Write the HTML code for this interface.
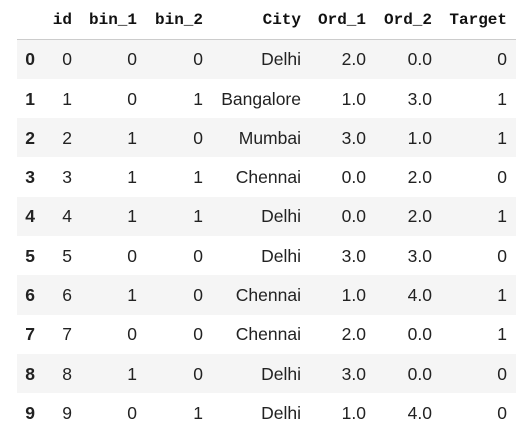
<!DOCTYPE html>
<html><head><meta charset="utf-8"><style>
body{margin:0;width:532px;height:433px;background:#fff;overflow:hidden;position:relative;font-family:"Liberation Sans",sans-serif;}
.c{position:absolute;white-space:nowrap;text-align:right;font-size:17.5px;color:#222;line-height:20px;}
.h{font-family:"Liberation Mono",monospace;font-weight:bold;font-size:16px;color:#111;}
.i{font-weight:bold;}
.band{position:absolute;left:17px;width:499px;height:39.3px;}
</style></head><body>
<div style="position:absolute;left:17px;top:39px;width:499px;height:1px;background:#ccc"></div>
<script>
const headers=["","id","bin_1","bin_2","City","Ord_1","Ord_2","Target"];
const rights=[35,72,137,203,301,366,432,507];
const ids=[0,1,2,3,4,5,6,7,8,9];
const bin1=[0,0,1,1,1,0,1,0,1,0];
const bin2=[0,1,0,1,1,0,0,0,0,1];
const city=["Delhi","Bangalore","Mumbai","Chennai","Delhi","Delhi","Chennai","Chennai","Delhi","Delhi"];
const ord1=["2.0","1.0","3.0","0.0","0.0","3.0","1.0","2.0","3.0","1.0"];
const ord2=["0.0","3.0","1.0","2.0","2.0","3.0","4.0","0.0","0.0","4.0"];
const target=[0,1,1,0,1,0,1,1,0,0];
const top0=39.6,rh=39.3;
function cell(txt,right,y,cls,name){
  const d=document.createElement('div');
  d.className='c '+cls;
  d.textContent=txt;
  d.style.right=(532-right)+'px';
  d.style.top=y+'px';
  
  
  document.body.appendChild(d);
}
headers.forEach((h,j)=>{ if(h) cell(h,rights[j],10,'h','header-'+h.toLowerCase()); });
ids.forEach((id,r)=>{
  const y=top0+r*rh;
  if(r%2===0){
    const b=document.createElement('div');
    b.className='band';b.style.top=y+'px';b.style.background='#f5f5f5';
    
    
    document.body.insertBefore(b,document.body.firstChild);
  }
  const ty=y+rh/2-10;
  const vals=[r,id,bin1[r],bin2[r],city[r],ord1[r],ord2[r],target[r]];
  vals.forEach((v,j)=>cell(String(v),rights[j],ty,j===0?'i':'',j===0?'row-index':'cell-'+headers[j].toLowerCase()));
});
</script>
</body></html>
